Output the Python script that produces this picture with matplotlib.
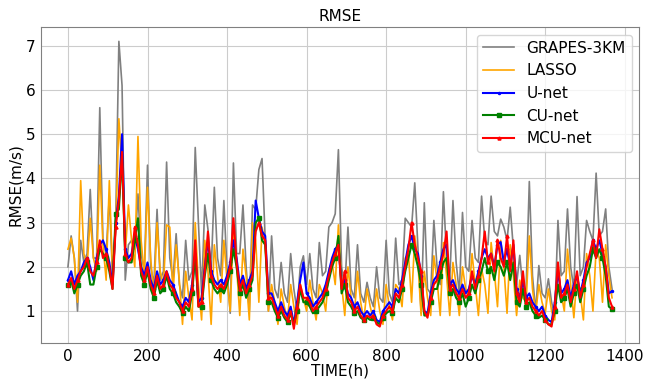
import numpy as np
import matplotlib
matplotlib.use('Agg')
import matplotlib.pyplot as plt

hours = np.arange(0, 1369, 8)

grapes = [2.0, 2.7, 2.2, 1.0, 2.6, 2.1, 2.3, 3.75, 2.2, 2.2, 5.6, 2.6,
          2.3, 3.6, 1.8, 3.0, 7.1, 6.1, 1.7, 2.5, 2.6, 2.4, 3.65, 2.3,
          1.9, 4.3, 2.0, 1.6, 3.3, 1.7, 1.9, 4.37, 2.2, 1.7, 2.75, 1.6,
          1.3, 2.6, 1.7, 1.9, 4.7, 3.0, 1.4, 3.4, 2.85, 1.9, 3.8, 2.2,
          1.8, 3.5, 1.9, 0.95, 4.35, 2.3, 2.3, 3.4, 2.0, 1.0, 3.4, 3.3,
          4.2, 4.45, 2.6, 1.0, 2.7, 1.5, 1.3, 2.1, 1.4, 1.2, 2.3, 1.5,
          1.0, 2.0, 2.25, 1.6, 2.3, 1.5, 1.3, 2.55, 1.8, 1.9, 2.9, 3.0,
          3.2, 4.65, 2.0, 1.5, 2.9, 1.5, 1.3, 2.5, 1.4, 1.2, 1.65, 1.3,
          1.1, 2.0, 1.3, 1.2, 2.6, 1.4, 1.2, 2.65, 1.6, 1.7, 3.1, 3.0,
          2.9, 3.9, 2.4, 0.95, 3.45, 1.5, 1.4, 3.05, 2.0, 1.6, 3.7, 2.2,
          1.7, 3.5, 2.1, 1.4, 3.23, 2.0, 1.9, 3.05, 2.2, 2.1, 3.6, 2.6,
          2.5, 3.6, 2.8, 2.7, 3.08, 2.9, 2.6, 3.35, 2.4, 1.6, 2.26, 1.5,
          1.5, 3.93, 1.8, 1.0, 2.03, 1.4, 1.3, 1.73, 1.2, 0.9, 3.05, 1.8,
          1.9, 3.31, 2.0, 1.5, 3.59, 1.8, 2.0, 3.05, 2.8, 2.6, 4.12, 2.7,
          2.8, 3.31, 2.0, 1.5]

lasso = [2.4, 2.65, 2.2, 1.2, 3.95, 2.3, 2.0, 3.1, 2.2, 1.9, 4.3, 2.5,
         1.7, 3.95, 1.9, 2.8, 5.35, 4.2, 2.3, 3.4, 2.6, 2.0, 4.95, 2.6,
         1.8, 3.8, 2.2, 1.3, 3.0, 1.9, 1.6, 2.95, 2.9, 1.4, 2.5, 1.7,
         0.7, 1.9, 1.3, 0.8, 3.0, 1.6, 0.8, 2.6, 1.9, 0.7, 2.5, 1.8,
         1.2, 2.6, 1.7, 1.0, 2.9, 2.0, 0.9, 2.4, 1.8, 0.8, 3.0, 2.6,
         1.2, 2.9, 2.5, 1.0, 1.6, 1.2, 0.7, 1.5, 1.1, 0.8, 1.6, 1.1,
         0.7, 1.6, 1.3, 1.0, 1.7, 1.2, 0.8, 1.6, 1.4, 1.0, 1.95, 2.1,
         1.6, 2.95, 1.6, 0.9, 2.0, 1.3, 0.9, 1.9, 1.2, 0.8, 1.5, 1.1,
         0.8, 1.5, 1.0, 0.7, 1.6, 1.1, 0.8, 1.6, 1.5, 1.1, 2.2, 2.3,
         1.2, 2.7, 2.1, 0.9, 1.9, 1.3, 0.9, 2.25, 1.7, 0.9, 2.55, 1.8,
         0.9, 2.1, 1.6, 0.9, 2.0, 1.5, 1.35, 2.3, 1.6, 0.9, 1.95, 1.6,
         0.95, 2.55, 1.9, 1.1, 2.6, 2.0, 0.95, 2.5, 1.8, 0.9, 1.7, 1.3,
         1.2, 2.7, 1.5, 0.95, 1.6, 1.2, 0.95, 1.5, 1.0, 0.8, 2.1, 1.4,
         1.0, 2.4, 1.6, 0.85, 1.8, 1.4, 0.8, 2.3, 1.8, 1.0, 2.4, 2.2,
         1.2, 2.5, 1.8, 1.3]

unet = [1.7, 1.9, 1.6, 1.8, 1.9, 2.1, 2.2, 2.0, 1.7, 2.2, 2.5, 2.6,
        2.4, 2.1, 1.6, 3.0, 3.6, 5.0, 2.4, 2.2, 2.3, 2.7, 2.4, 2.0,
        1.8, 2.1, 1.7, 1.5, 1.9, 1.6, 1.7, 1.9, 1.7, 1.6, 1.4, 1.2,
        1.1, 1.3, 1.2, 1.6, 2.3, 1.2, 1.3, 2.0, 2.6, 1.9, 1.7, 1.6,
        1.7, 1.6, 1.8, 2.1, 2.6, 2.2, 1.6, 1.8, 1.5, 1.7, 1.9, 3.5,
        3.1, 2.8, 2.7, 1.4, 1.4, 1.2, 1.0, 1.2, 1.0, 0.9, 1.1, 0.7,
        1.2, 1.7, 2.1, 1.4, 1.3, 1.1, 1.2, 1.3, 1.4, 1.6, 1.9, 2.2,
        2.4, 2.5, 1.6, 1.7, 1.4, 1.3, 1.1, 1.2, 1.0, 0.9, 1.0, 0.9,
        1.0, 0.8, 0.75, 1.0, 1.1, 1.2, 1.1, 1.5, 1.4, 1.7, 2.1, 2.5,
        2.7, 2.4, 2.3, 1.8, 1.0, 0.95, 1.4, 1.7, 1.8, 2.1, 2.4, 2.5,
        1.6, 1.7, 1.5, 1.4, 1.6, 1.4, 1.5, 1.8, 1.6, 1.9, 2.2, 2.4,
        2.2, 2.3, 2.0, 2.5, 2.56, 2.1, 2.4, 2.0, 2.5, 1.5, 1.3, 1.7,
        1.3, 1.4, 1.2, 1.1, 1.0, 1.1, 0.9, 0.8, 0.75, 1.2, 1.9, 1.4,
        1.5, 1.7, 1.3, 1.6, 1.8, 1.4, 1.7, 2.1, 2.2, 2.6, 2.4, 2.6,
        2.3, 2.0, 1.4, 1.45]

cunet = [1.6, 1.7, 1.4, 1.6, 1.8, 1.9, 2.1, 1.6, 1.6, 2.0, 2.4, 2.3,
         2.2, 1.9, 1.5, 3.2, 3.3, 4.55, 2.2, 2.1, 2.1, 2.6, 3.1, 1.8,
         1.6, 1.9, 1.5, 1.3, 1.7, 1.4, 1.5, 1.8, 1.5, 1.4, 1.2, 1.1,
         0.95, 1.1, 1.0, 1.4, 2.3, 1.1, 1.1, 1.8, 2.3, 1.7, 1.5, 1.4,
         1.5, 1.4, 1.6, 1.9, 2.4, 2.0, 1.4, 1.6, 1.3, 1.5, 1.7, 3.0,
         3.1, 2.6, 2.5, 1.2, 1.2, 1.0, 0.85, 1.0, 0.85, 0.75, 0.95, 0.7,
         1.0, 1.5, 1.2, 1.2, 1.1, 0.95, 1.0, 1.1, 1.2, 1.4, 1.7, 2.0,
         2.2, 2.7, 1.4, 1.6, 1.2, 1.1, 0.95, 1.0, 0.85, 0.8, 0.85, 0.8,
         0.85, 0.75, 0.7, 0.85, 0.95, 1.0, 0.95, 1.3, 1.2, 1.5, 1.9, 2.2,
         2.5, 2.3, 2.0, 1.6, 0.9, 0.9, 1.2, 1.5, 1.5, 1.8, 2.1, 2.2,
         1.4, 1.5, 1.3, 1.2, 1.4, 1.1, 1.3, 1.6, 1.4, 1.7, 1.9, 2.2,
         1.9, 2.0, 1.7, 2.1, 2.0, 1.8, 2.1, 1.7, 2.1, 1.2, 1.1, 1.5,
         1.1, 1.2, 1.0, 0.9, 0.85, 0.9, 0.8, 0.7, 0.7, 1.0, 1.6, 1.2,
         1.3, 1.5, 1.1, 1.4, 1.6, 1.2, 1.5, 1.8, 2.0, 2.4, 2.2, 2.4,
         2.2, 1.8, 1.1, 1.05]

mcunet = [1.6, 1.75, 1.5, 1.7, 1.9, 2.0, 2.2, 1.9, 1.8, 2.1, 2.6, 2.2,
          2.3, 2.0, 1.5, 2.9, 3.5, 4.6, 2.3, 2.1, 2.2, 2.9, 2.5, 1.9,
          1.7, 2.0, 1.6, 1.4, 1.8, 1.5, 1.6, 1.9, 1.6, 1.5, 1.3, 1.2,
          1.0, 1.2, 1.1, 1.5, 2.6, 1.1, 1.2, 1.9, 2.8, 1.8, 1.6, 1.5,
          1.6, 1.5, 1.7, 2.0, 3.1, 2.1, 1.5, 1.7, 1.4, 1.6, 1.8, 2.8,
          3.0, 2.7, 2.6, 1.3, 1.3, 1.1, 0.9, 1.1, 0.9, 0.8, 1.0, 0.6,
          1.1, 1.6, 1.3, 1.3, 1.2, 1.0, 1.1, 1.2, 1.3, 1.5, 1.8, 2.1,
          2.3, 2.5, 1.5, 1.9, 1.3, 1.2, 1.0, 1.1, 0.9, 0.8, 0.9, 0.85,
          0.9, 0.7, 0.65, 0.9, 1.0, 1.1, 1.0, 1.4, 1.3, 1.6, 2.0, 2.4,
          3.0, 2.5, 2.2, 1.9, 1.0, 0.85, 1.3, 1.6, 1.7, 2.0, 2.3, 2.8,
          1.5, 1.6, 1.4, 1.3, 1.5, 1.3, 1.4, 1.9, 1.5, 1.8, 2.2, 2.8,
          2.1, 2.3, 1.9, 2.6, 2.2, 2.0, 2.7, 1.9, 2.6, 1.4, 1.2, 1.9,
          1.2, 1.3, 1.1, 1.0, 0.9, 1.0, 0.8, 0.7, 0.65, 1.1, 2.1, 1.3,
          1.4, 1.6, 1.2, 1.5, 1.9, 1.3, 1.6, 2.0, 2.3, 2.6, 2.2, 2.85,
          2.4, 2.0, 1.3, 1.1]

plt.rcParams['font.size'] = 11

fig, ax = plt.subplots(figsize=(6.47, 3.8), dpi=100)
ax.plot(hours, grapes, color='grey', lw=1.2, label='GRAPES-3KM')
ax.plot(hours, lasso, color='orange', lw=1.2, label='LASSO')
ax.plot(hours, unet, color='blue', lw=1.5, marker='.', ms=3, markevery=3, label='U-net')
ax.plot(hours, cunet, color='green', lw=1.5, marker='s', ms=2.2, markevery=3, label='CU-net')
ax.plot(hours, mcunet, color='red', lw=1.5, marker='^', ms=2.2, markevery=3, label='MCU-net')

ax.set_title('RMSE', fontsize=11, pad=4)
ax.set_xlabel('TIME(h)', labelpad=0)
ax.set_ylabel('RMSE(m/s)', labelpad=2)
ax.tick_params(length=0, pad=4)
for sp in ax.spines.values():
    sp.set_color('grey')
ax.grid(True, color='#cccccc')
ax.legend(loc='upper right', fontsize=11)
fig.subplots_adjust(left=0.063, right=0.988, bottom=0.097, top=0.929)
fig.savefig('out.png')
